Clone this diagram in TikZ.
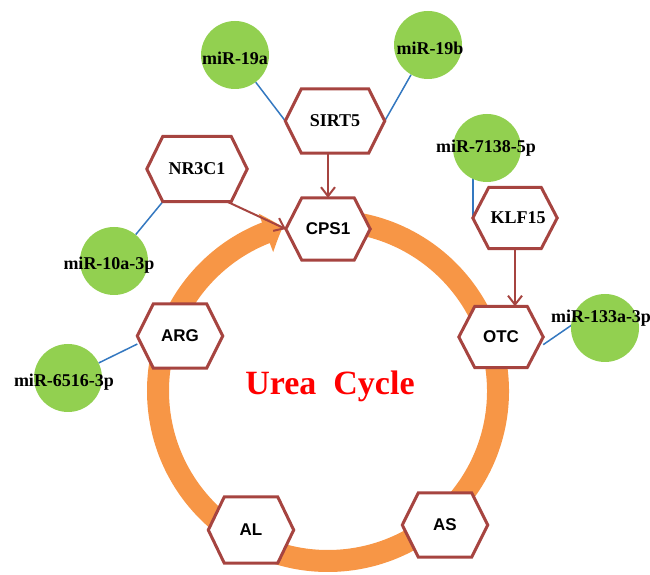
\documentclass[tikz,border=0pt]{standalone}
\usepackage{fontspec}
\setmainfont{Liberation Serif}
\newfontfamily\hexsans{Liberation Sans}
\usetikzlibrary{arrows.meta,bending,calc}

\definecolor{hexred}{RGB}{166,68,64}
\definecolor{mirgreen}{RGB}{146,208,80}
\definecolor{mirblue}{RGB}{52,120,192}
\definecolor{ringorange}{RGB}{247,150,70}

\pgfdeclarelayer{ringlayer}
\pgfdeclarelayer{shapelayer}
\pgfsetlayers{ringlayer,shapelayer,main}

\tikzset{
  hexbox/.style={inner sep=0pt, font=\bfseries\fontsize{18}{20}\selectfont},
  hexsf/.style={hexbox, font=\hexsans\bfseries\fontsize{17}{19}\selectfont},
  hexline/.style={draw=hexred, fill=white, line width=3pt, line join=miter},
  mir/.style={circle, fill=mirgreen, minimum size=68pt, inner sep=0pt},
  mirtext/.style={font=\bfseries\fontsize{18}{20}\selectfont, text=black, inner sep=0pt},
  regarrow/.style={draw=hexred, line width=2pt, -{Straight Barb[length=9pt,width=14pt]}},
  mirline/.style={draw=mirblue, line width=1.5pt},
  ring/.style={draw=ringorange, line width=22pt, -{Triangle[width=40pt,length=18pt,bend]}}
}

\begin{document}
\begin{tikzpicture}[x=1pt,y=1pt]
\useasboundingbox (0,0) rectangle (650,575);

% enzymes of the cycle and regulators
\node[hexsf, minimum width=84pt, minimum height=62pt] (CPS1)  at (328,346) {CPS1};
\node[hexbox, minimum width=99pt, minimum height=64pt] (SIRT5) at (335,454) {SIRT5};
\node[hexbox, minimum width=100pt, minimum height=65pt] (NR3C1) at (197,406) {NR3C1};
\node[hexbox, minimum width=84pt, minimum height=61pt] (KLF15) at (515,357) {\hspace{6pt}KLF15};
\node[hexsf, minimum width=84pt, minimum height=61pt] (OTC)   at (501,238) {OTC};
\node[hexsf, minimum width=85pt, minimum height=64pt] (ARG)   at (180,239) {ARG};
\node[hexsf, minimum width=85pt, minimum height=66pt] (AL)    at (251,45)  {AL};
\node[hexsf, minimum width=85pt, minimum height=64pt] (AS)    at (445,50)  {AS};

% microRNAs
\node[mir, label={[mirtext, shift={(0pt,-3pt)}]center:miR-19a}]      (m19a)  at (235,520) {};
\node[mir, label={[mirtext, shift={(2pt,-3pt)}]center:miR-19b}]      (m19b)  at (428,530) {};
\node[mir, label={[mirtext, shift={(-5pt,-4pt)}]center:miR-10a-3p}]  (m10a)  at (114,314) {};
\node[mir, label={[mirtext, shift={(-4pt,-4pt)}]center:miR-6516-3p}] (m6516) at (68,197)  {};
\node[mir, label={[mirtext, shift={(-1pt,0pt)}]center:miR-7138-5p}]  (m7138) at (487,427) {};
\node[mir, label={[mirtext, shift={(-4pt,10pt)}]center:miR-133a-3p}] (m133a) at (605,247) {};

% the cycle itself
\coordinate (rc) at (328,184);
\begin{pgfonlayer}{ringlayer}
  \draw[ring] ($(rc)+(95:170)$) arc[start angle=95, end angle=-254.6, radius=170];
  % microRNA targeting lines
  \draw[mirline] (m19a) -- (SIRT5.west);
  \draw[mirline] (m19b) -- (SIRT5.east);
  \draw[mirline] ([xshift=16pt]NR3C1.south west) -- (m10a);
  \draw[mirline] ($(ARG.west)!0.25!(ARG.south west)$) -- (m6516);
  \draw[mirline] (KLF15.west) -- (KLF15.west |- m7138.center);
  \draw[mirline] ($(OTC.east)!0.25!(OTC.south east)$) -- ([shift={(1pt,3pt)}]m133a.west);
\end{pgfonlayer}

% hexagon outlines
\begin{pgfonlayer}{shapelayer}
  \foreach \h in {CPS1,SIRT5,NR3C1,KLF15,OTC,ARG,AL,AS}
    \draw[hexline] (\h.west) -- ([xshift=16pt]\h.north west) -- ([xshift=-16pt]\h.north east)
      -- (\h.east) -- ([xshift=-16pt]\h.south east) -- ([xshift=16pt]\h.south west) -- cycle;
\end{pgfonlayer}

% regulation arrows
\draw[regarrow] (CPS1.north |- SIRT5.south) -- (CPS1.north);
\draw[regarrow] ([xshift=-20pt]NR3C1.south east) -- (CPS1.west);
\draw[regarrow] (KLF15.south) -- (KLF15.south |- OTC.north);

% title
\node[text=red, font=\bfseries\fontsize{34}{38}\selectfont, anchor=base, inner sep=0pt]
  (title) at (330,180) {Urea\ \ Cycle};
\end{tikzpicture}
\end{document}
